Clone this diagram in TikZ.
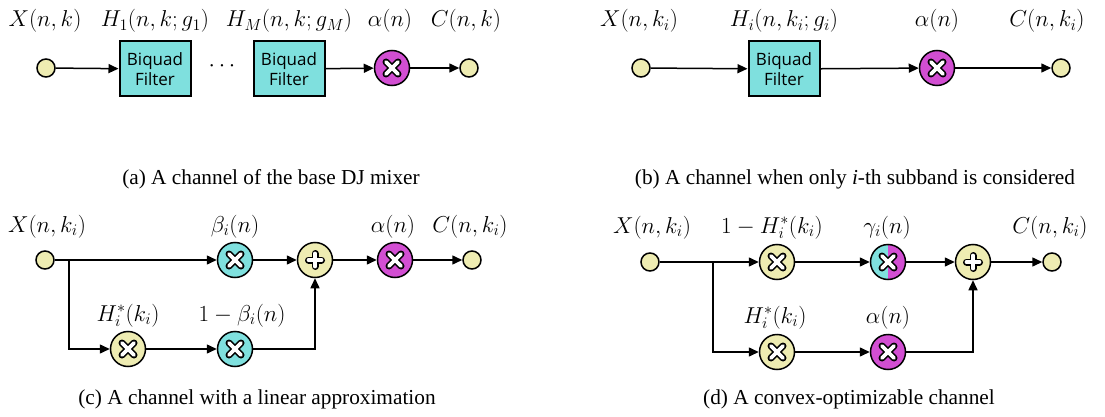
\RequirePackage{fix-cm}
\documentclass[tikz,border=0pt]{standalone}
\usepackage{fontspec}
\usepackage{xcolor}
\usetikzlibrary{arrows.meta}
\newfontfamily\capfont{Liberation Serif}
\newfontfamily\boxfont{Open Sans}
\definecolor{yelcol}{RGB}{238,236,178}
\definecolor{cyancol}{RGB}{127,224,222}
\definecolor{magcol}{RGB}{210,78,210}

% white cross with black rim, drawn inside a node's path picture
\newcommand{\crossmark}{%
  \foreach \col/\wd in {black/7pt,white/3.8pt} {
    \draw[\col,line width=\wd,line cap=round]
      ([shift={(-6pt,-6pt)}]path picture bounding box.center) -- ([shift={(6pt,6pt)}]path picture bounding box.center);
    \draw[\col,line width=\wd,line cap=round]
      ([shift={(-6pt,6pt)}]path picture bounding box.center) -- ([shift={(6pt,-6pt)}]path picture bounding box.center);
  }}
\newcommand{\plusmark}{%
  \foreach \col/\wd in {black/7pt,white/3.8pt} {
    \draw[\col,line width=\wd,line cap=round]
      ([shift={(-6.5pt,0pt)}]path picture bounding box.center) -- ([shift={(6.5pt,0pt)}]path picture bounding box.center);
    \draw[\col,line width=\wd,line cap=round]
      ([shift={(0pt,6.5pt)}]path picture bounding box.center) -- ([shift={(0pt,-6.5pt)}]path picture bounding box.center);
  }}

\begin{document}
\begin{tikzpicture}[x=1pt, y=-1pt,
    lbl/.style={anchor=base, font=\fontsize{23}{28}\selectfont},
    captxt/.style={anchor=base, font=\capfont\fontsize{21.3}{25}\selectfont},
    io/.style={circle, draw, fill=yelcol, line width=1.5pt, minimum size=18pt, inner sep=0pt},
    mul/.style={circle, draw, line width=1.5pt, minimum size=35pt, inner sep=0pt, path picture={\crossmark}},
    halfmul/.style={circle, draw, line width=1.5pt, minimum size=35pt, inner sep=0pt,
      path picture={
        \fill[cyancol] (path picture bounding box.south west) rectangle (path picture bounding box.north);
        \fill[magcol] (path picture bounding box.south) rectangle (path picture bounding box.north east);
        \crossmark}},
    addnode/.style={circle, draw, fill=yelcol, line width=1.5pt, minimum size=35pt, inner sep=0pt, path picture={\plusmark}},
    biquad/.style={draw, fill=cyancol, line width=2pt, minimum width=71pt, minimum height=55pt,
      inner sep=0pt, align=center, font=\boxfont\fontsize{17}{20}\selectfont},
    arr/.style={line width=1.5pt, -{Triangle[length=10pt,width=9pt]}}]
  \useasboundingbox (0,0) rectangle (1105,417);

  % (a) base DJ mixer channel
  \node[io] (ain) at (46,68) {};
  \node[biquad] (afa) at (155,69) {Biquad\\Filter};
  \node[lbl, anchor=center] (adots) at (222,66) {$\cdots$};
  \node[biquad] (afb) at (289,69) {Biquad\\Filter};
  \node[mul, fill=magcol] (aalpha) at (392,68) {};
  \node[io] (aout) at (469,68) {};
  \draw[arr] (ain) -- (afa);
  \draw[arr] (afb) -- (aalpha);
  \draw[arr] (aalpha) -- (aout);
  \node[lbl] (axlab) at (45,27) {$X(n,k)$};
  \node[lbl] (ahalab) at (155,27) {$H_1(n,k;g_1)$};
  \node[lbl] (ahblab) at (289,27) {$H_M(n,k;g_M)$};
  \node[lbl] (aallab) at (390,27) {$\alpha(n)$};
  \node[lbl] (aclab) at (466,27) {$C(n,k)$};
  \node[captxt] (capa) at (271,184) {(a) A channel of the base DJ mixer};

  % (b) one subband
  \node[io] (bin) at (641,68) {};
  \node[biquad] (bf) at (784,69) {Biquad\\Filter};
  \node[mul, fill=magcol] (balpha) at (937,68) {};
  \node[io] (bout) at (1061,68) {};
  \draw[arr] (bin) -- (bf);
  \draw[arr] (bf) -- (balpha);
  \draw[arr] (balpha) -- (bout);
  \node[lbl] (bxlab) at (639,27) {$X(n,k_i)$};
  \node[lbl] (bhlab) at (784,27) {$H_i(n,k_i;g_i)$};
  \node[lbl] (ballab) at (937,27) {$\alpha(n)$};
  \node[lbl] (bclab) at (1047,27) {$C(n,k_i)$};
  \node[captxt] (capb) at (855,184) {(b) A channel when only \textit{i}-th subband is considered};

  % (c) linear approximation
  \node[io] (cin) at (45,260) {};
  \coordinate (cbr) at (69,260);
  \node[mul, fill=cyancol] (cbeta) at (235,260) {};
  \node[addnode] (cadd) at (315,260) {};
  \node[mul, fill=magcol] (calpha) at (395,260) {};
  \node[io] (cout) at (472,260) {};
  \node[mul, fill=yelcol] (chs) at (128,349) {};
  \node[mul, fill=cyancol] (comb) at (235,349) {};
  \draw[arr] (cin) -- (cbeta);
  \draw[arr] (cbeta) -- (cadd);
  \draw[arr] (cadd) -- (calpha);
  \draw[arr] (calpha) -- (cout);
  \draw[arr] (cbr) |- (chs);
  \draw[arr] (chs) -- (comb);
  \draw[arr] (comb) -| (cadd);
  \node[lbl] (cxlab) at (47,232) {$X(n,k_i)$};
  \node[lbl] (cblab) at (235,232) {$\beta_i(n)$};
  \node[lbl] (callab) at (393,232) {$\alpha(n)$};
  \node[lbl] (cclab) at (470,232) {$C(n,k_i)$};
  \node[lbl] (chlab) at (128,321) {$H_i^*(k_i)$};
  \node[lbl] (coblab) at (242,321) {$1-\beta_i(n)$};
  \node[captxt] (capc) at (257,404) {(c) A channel with a linear approximation};

  % (d) convex-optimizable
  \node[io] (din) at (650,262) {};
  \coordinate (dbr) at (713,262);
  \node[mul, fill=yelcol] (domh) at (777,262) {};
  \node[halfmul] (dgam) at (888,262) {};
  \node[addnode] (dadd) at (973,262) {};
  \node[io] (dout) at (1052,262) {};
  \node[mul, fill=yelcol] (dhs) at (777,352) {};
  \node[mul, fill=magcol] (dalpha) at (888,352) {};
  \draw[arr] (din) -- (domh);
  \draw[arr] (domh) -- (dgam);
  \draw[arr] (dgam) -- (dadd);
  \draw[arr] (dadd) -- (dout);
  \draw[arr] (dbr) |- (dhs);
  \draw[arr] (dhs) -- (dalpha);
  \draw[arr] (dalpha) -| (dadd);
  \node[lbl] (dxlab) at (652,233) {$X(n,k_i)$};
  \node[lbl] (domhlab) at (772,233) {$1-H_i^*(k_i)$};
  \node[lbl] (dglab) at (887,233) {$\gamma_i(n)$};
  \node[lbl] (dclab) at (1050,233) {$C(n,k_i)$};
  \node[lbl] (dhlab) at (775,323) {$H_i^*(k_i)$};
  \node[lbl] (dallab) at (888,323) {$\alpha(n)$};
  \node[captxt] (capd) at (849,404) {(d) A convex-optimizable channel};
\end{tikzpicture}
\end{document}
